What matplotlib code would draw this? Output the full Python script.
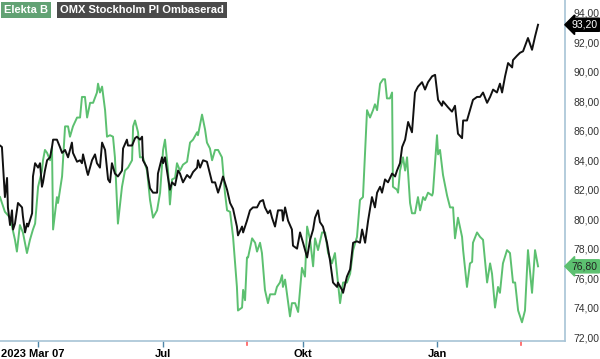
import matplotlib
matplotlib.use("Agg")
import matplotlib.pyplot as plt
import matplotlib.transforms as mtransforms

plt.rcParams['font.family'] = ['Liberation Sans', 'DejaVu Sans']

# --------- Data (trading day index, price) --------- #
omx_day = [0.0, 0.9, 2.3, 3.3, 3.7, 4.7, 5.6, 6.1, 7.0, 8.4, 10.3, 10.7, 11.7, 12.6, 13.1, 15.0,
           15.4, 16.4, 17.8, 18.7, 19.6, 20.1, 21.0, 22.0, 23.4, 24.3, 24.8, 26.6, 28.0, 29.0,
           30.4, 31.8, 33.6, 34.1, 36.0, 37.4, 38.3, 38.8, 40.7, 41.1, 43.0, 44.4, 45.3, 46.7,
           47.7, 49.1, 50.5, 51.4, 52.3, 53.7, 55.1, 57.0, 57.5, 59.3, 59.8, 61.7, 63.1, 64.0,
           65.4, 66.4, 66.8, 68.7, 69.2, 70.1, 71.5, 73.4, 73.8, 75.7, 76.2, 77.1, 78.0, 79.4,
           80.4, 81.8, 83.2, 84.1, 85.5, 87.4, 88.8, 90.2, 92.1, 92.5, 93.5, 94.9, 96.7, 98.1,
           99.1, 100.5, 101.9, 102.8, 104.2, 106.1, 107.5, 108.9, 110.7, 111.2, 113.1, 113.6,
           115.4, 116.8, 118.2, 120.1, 121.5, 122.9, 123.8, 125.2, 126.2, 127.1, 128.5, 129.9,
           131.8, 132.2, 133.2, 134.6, 136.4, 136.9, 138.8, 140.2, 141.6, 143.5, 144.9, 146.3,
           147.2, 148.6, 149.5, 150.9, 152.8, 154.2, 155.6, 157.5, 157.9, 159.8, 160.3, 162.1,
           163.6, 165.0, 166.8, 168.2, 169.2, 170.6, 172.0, 173.8, 175.2, 176.2, 177.6, 178.5,
           179.9, 181.3, 183.2, 184.6, 185.5, 186.9, 187.9, 189.3, 190.7, 192.5, 193.9, 195.3,
           197.2, 198.6, 200.0, 201.9, 203.3, 204.7, 206.5, 207.0, 209.3, 211.2, 212.6, 214.0,
           215.9, 216.4, 218.2, 219.6, 221.0, 222.9, 224.3, 225.7, 227.6, 229.0, 230.4, 232.2,
           233.6, 234.6, 236.0, 237.4, 239.3, 239.7, 241.6, 243.0, 244.4, 246.7, 248.6, 250.0,
           251.4]
omx_val = [85.0, 84.9, 81.5, 82.8, 80.8, 79.6, 80.6, 79.3, 79.7, 81.1, 80.8, 80.2, 79.1, 79.7, 79.5, 80.4,
           82.9, 83.8, 83.5, 83.8, 82.2, 82.5, 83.3, 84.0, 84.2, 84.9, 85.4, 85.4, 84.9, 84.5,
           84.7, 84.2, 85.2, 84.5, 83.9, 84.0, 83.8, 84.4, 83.2, 83.0, 84.0, 84.4, 83.8, 83.5,
           85.2, 84.7, 82.7, 82.5, 83.8, 83.1, 82.9, 83.3, 84.8, 85.4, 85.0, 85.0, 85.5, 85.6,
           85.4, 85.6, 84.0, 83.5, 82.9, 82.1, 81.8, 81.8, 83.1, 84.2, 83.8, 84.2, 83.3, 82.0,
           82.5, 82.3, 83.3, 83.1, 82.5, 83.0, 82.8, 83.2, 83.5, 84.0, 83.5, 84.0, 83.9, 83.1,
           82.5, 82.5, 81.8, 82.2, 82.9, 82.0, 81.1, 80.7, 79.5, 78.9, 79.5, 79.1,
           79.9, 80.6, 80.8, 80.8, 81.2, 81.3, 80.8, 80.4, 80.6, 80.1, 79.5, 80.6,
           80.6, 79.9, 80.8, 79.9, 79.3, 78.2, 78.0, 79.1, 78.4, 77.4, 78.6, 79.3,
           80.1, 80.6, 79.8, 79.5, 78.4, 77.2, 75.7, 75.4, 75.7, 75.2, 75.0, 76.1,
           76.6, 78.4, 78.5, 78.4, 79.3, 78.4, 79.9, 81.5, 80.8, 81.8, 82.2, 81.8,
           82.7, 82.5, 83.1, 82.9, 83.3, 83.8, 84.9, 85.4, 86.6, 85.9, 88.6, 89.0,
           89.3, 88.8, 89.3, 89.7, 89.8, 88.1, 87.7, 88.0, 87.6, 87.3, 87.7, 85.8,
           85.5, 86.7, 86.7, 87.4, 88.1, 88.3, 88.3, 88.6, 87.9, 88.3, 88.8, 88.6,
           89.2, 88.6, 89.7, 90.6, 90.3, 90.8, 91.1, 91.3, 91.4, 92.3, 91.5, 92.4,
           93.2]

elekta_day = [0.0, 2.3, 4.7, 7.0, 7.9, 9.3, 10.7, 12.6, 14.0, 15.4, 16.4, 17.8, 19.6, 20.1, 21.0,
              22.0, 23.4, 24.3, 24.8, 26.6, 27.1, 29.0, 30.4, 31.8, 32.7, 34.1, 36.0, 37.4, 38.3,
              39.7, 40.7, 42.1, 43.5, 45.3, 45.8, 46.7, 47.7, 49.1, 50.0, 51.4, 52.8, 53.7, 55.1,
              57.0, 58.4, 59.8, 61.7, 62.2, 63.1, 64.5, 65.4, 66.8, 68.7, 70.1, 71.5, 73.4, 74.8,
              76.2, 77.1, 78.5, 79.4, 80.4, 81.8, 82.7, 84.1, 85.5, 87.4, 88.8, 90.2, 92.1, 92.5,
              94.4, 95.8, 96.7, 98.1, 99.1, 100.5, 101.9, 103.7, 105.1, 106.1, 107.5, 108.9,
              110.7, 111.2, 113.1, 113.6, 114.5, 115.4, 115.9, 117.8, 119.2, 120.1, 121.5, 122.4,
              123.8, 125.2, 126.2, 128.5, 129.4, 130.8, 131.8, 132.2, 133.2, 134.6, 135.5, 136.4,
              137.9, 139.3, 141.1, 142.5, 143.5, 144.9, 146.3, 147.2, 148.6, 150.5, 151.9, 153.3,
              155.1, 156.5, 157.9, 158.9, 160.3, 162.1, 163.6, 165.0, 166.8, 168.2, 169.6, 171.5,
              172.9, 174.3, 175.2, 176.2, 177.6, 179.0, 179.9, 180.8, 182.2, 183.2, 183.6, 185.5,
              186.0, 186.9, 188.3, 189.3, 190.2, 191.6, 192.5, 193.9, 195.3, 196.3, 197.7, 198.6,
              200.0, 201.9, 202.3, 204.2, 204.7, 205.6, 207.0, 208.9, 210.3, 211.7, 212.6, 214.0,
              215.9, 216.4, 218.2, 219.6, 220.6, 221.0, 222.9, 224.3, 225.7, 227.6, 229.0, 229.9,
              231.3, 232.7, 233.6, 235.0, 236.9, 238.3, 239.7, 240.7, 242.1, 243.9, 245.3, 246.7,
              248.6, 250.0, 251.4]
elekta_val = [81.5, 80.5, 80.1, 78.6, 77.8, 79.6, 79.1, 77.7, 78.6, 79.3, 79.7, 82.2, 83.3, 84.0, 84.7,
              84.5, 84.0, 84.9, 79.3, 81.5, 81.1, 82.9, 86.3, 86.3, 85.6, 86.3, 86.9, 86.9, 88.3,
              88.3, 86.9, 87.9, 87.9, 88.6, 89.2, 88.6, 89.0, 87.4, 85.6, 85.7, 85.6, 84.2, 79.7,
              82.2, 83.3, 83.5, 84.0, 86.3, 86.7, 85.9, 84.2, 84.2, 83.3, 81.3, 80.1, 80.6, 81.8,
              84.7, 85.4, 83.3, 81.0, 82.7, 82.8, 83.8, 83.3, 83.7, 83.9, 85.2, 85.4, 85.9, 85.7,
              87.1, 86.1, 85.2, 84.8, 84.0, 84.7, 84.7, 84.2, 81.8, 80.6, 80.5, 78.8,
              75.4, 73.8, 74.0, 75.2, 74.5, 77.4, 77.4, 78.7, 78.4, 77.8, 78.4, 77.7,
              75.2, 74.3, 74.9, 74.9, 75.4, 75.7, 76.2, 75.4, 75.9, 74.4, 73.4, 74.3,
              74.3, 73.7, 76.7, 76.1, 79.5, 78.6, 76.8, 78.7, 77.9, 79.1, 79.1, 77.7,
              77.0, 77.7, 75.7, 74.3, 75.7, 75.7, 76.3, 77.9, 78.8, 81.3, 81.5, 87.4,
              86.9, 87.4, 87.8, 87.4, 89.2, 89.5, 89.5, 88.2, 88.2, 88.6, 82.2, 82.0,
              81.8, 83.3, 84.2, 83.3, 84.2, 81.1, 80.4, 80.4, 81.5, 80.6, 81.5, 81.3,
              81.8, 81.6, 81.8, 85.7, 84.4, 84.7, 83.0, 81.6, 80.8, 80.8, 78.7, 80.1,
              78.8, 77.9, 75.4, 77.0, 77.1, 78.4, 79.1, 78.8, 78.6, 75.7, 77.0, 76.3,
              74.0, 75.4, 75.0, 77.0, 77.9, 77.7, 75.7, 75.7, 73.8, 73.0, 73.8, 77.9,
              75.0, 77.9, 76.8]

tick_days = [17.8, 76.2, 141.6, 204.2]
tick_labels = ["2023 Mar 07", "Jul", "Okt", "Jan"]
red_tick_days = [115.4, 243.5]
y_ticks = [72, 74, 76, 78, 80, 82, 84, 86, 88, 90, 92, 94]

green = '#5cc070'
axis_col = '#a7c3d6'

fig = plt.figure(figsize=(6, 3.59), dpi=100)
ax = fig.add_axes([0, 18/359, 565/600, 341/359])

ax.plot(elekta_day, elekta_val, color=green, lw=1.4)
ax.plot(omx_day, omx_val, color='#111111', lw=1.4)

ax.set_xlim(0, 264)
ax.set_ylim(71.73, 94.88)

for s in ['top', 'left']:
    ax.spines[s].set_visible(False)
for s in ['right', 'bottom']:
    ax.spines[s].set_color(axis_col)
    ax.spines[s].set_linewidth(1.2)

ax.yaxis.tick_right()
ax.set_yticks(y_ticks, [f"{v:.2f}".replace('.', ',') for v in y_ticks])
ax.tick_params(axis='y', length=0, pad=6, labelsize=7.5, labelcolor='#333333')

ax.set_xticks(tick_days, tick_labels)
ax.tick_params(axis='x', length=4, width=1, color='#4f86a8', pad=2, labelsize=8)
for lbl in ax.get_xticklabels():
    lbl.set_fontweight('bold')
first = ax.get_xticklabels()[0]
first.set_horizontalalignment('left')
first.set_transform(first.get_transform() + mtransforms.ScaledTranslation(-0.37, 0, fig.dpi_scale_trans))

# red markers on the date axis
for d in red_tick_days:
    ax.plot([d, d], [0, -0.012], color='#ff5a5a', lw=1.2,
            transform=ax.get_xaxis_transform(), clip_on=False)

# last value tags
tr = mtransforms.blended_transform_factory(ax.transAxes, ax.transData)
ax.text(1.012, omx_val[-1], f"{omx_val[-1]:.2f}".replace('.', ','), transform=tr,
        ha='left', va='center', fontsize=7.5, color='white',
        bbox=dict(boxstyle='larrow,pad=0.15', fc='black', ec='black'))
ax.text(1.012, elekta_val[-1], f"{elekta_val[-1]:.2f}".replace('.', ','), transform=tr,
        ha='left', va='center', fontsize=7.5, color='#222222',
        bbox=dict(boxstyle='larrow,pad=0.15', fc=green, ec=green))

# legend tags
fig.text(4/600, 1 - 10/359, "Elekta B", ha='left', va='center', fontsize=8,
         fontweight='bold', color='white',
         bbox=dict(boxstyle='square,pad=0.25', fc='#62a274', ec='none'))
fig.text(60/600, 1 - 10/359, "OMX Stockholm PI Ombaserad", ha='left', va='center', fontsize=8,
         fontweight='bold', color='white',
         bbox=dict(boxstyle='square,pad=0.25', fc='#4a4a4a', ec='none'))

fig.savefig('out.png', dpi=100)
